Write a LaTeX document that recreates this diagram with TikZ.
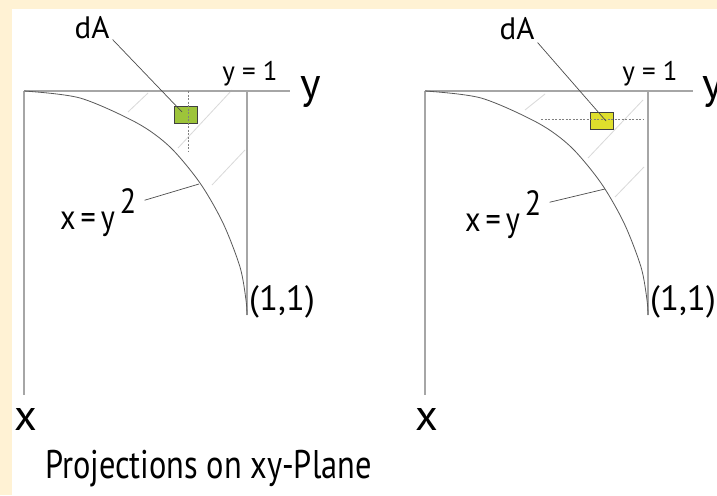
\documentclass[tikz,border=0pt]{standalone}
\usepackage{fontspec}
\setmainfont{PT Sans}
\usepackage{tikz}
\usetikzlibrary{positioning,calc}

\definecolor{cream}{HTML}{FFF2D4}
\definecolor{dAgreen}{HTML}{9DC43A}
\definecolor{dAyellow}{HTML}{DEDE2C}

\tikzset{
  axis/.style={draw=black!35, line width=1.3pt},
  curve/.style={draw=black!65, line width=0.8pt},
  leader/.style={draw=black!70, line width=0.7pt},
  hatch/.style={draw=black!15, line width=0.8pt},
  slice/.style={draw=black!50, line width=0.6pt, dash pattern=on 2pt off 1.5pt},
  dabox/.style={draw=black!75, line width=0.8pt, minimum width=23pt, minimum height=17pt, inner sep=0pt},
  lbl/.style={inner sep=0pt, font=\fontsize{28}{32}\selectfont},
  bigaxis/.style={inner sep=0pt, font=\fontsize{44}{50}\selectfont}
}
\newcommand{\narrowtxt}[1]{\scalebox{0.86}[1]{#1}}

\begin{document}
\begin{tikzpicture}[x=1pt, y=-1pt]
  % Page and cream frame
  \fill[cream] (0,0) rectangle (717,495);
  \fill[white] (12,9) rectangle (717,495);
  \useasboundingbox (0,0) rectangle (717,495);

  % ---- Left panel: vertical strip ----
  \draw[hatch] (128,112) -- (148,93);
  \draw[hatch] (178,148) -- (232,90);
  \draw[hatch] (212,185) -- (245,150);

  \draw[axis] (24,91) -- (290,91);
  \draw[axis] (24,91) -- (24,395);
  \draw[axis] (247,91) -- (247,315);
  \draw[curve] plot[smooth] coordinates {(24,91) (80,98) (137,123) (170,147) (200,183) (223,223) (240,267) (246,300) (247,315)};

  \node[dabox, fill=dAgreen] (boxL) at (186,114.5) {};
  \draw[slice] (188,91) -- (188,152);

  \node[lbl, font=\fontsize{31}{34}\selectfont, anchor=base] (dAL) at (92,38) {dA};
  \node[lbl, font=\fontsize{27}{30}\selectfont, anchor=base] (yoneL) at (250,81) {y = 1};
  \node[bigaxis, anchor=base west] (yaxL) at (300,98) {y};
  \node[lbl, font=\fontsize{35}{38}\selectfont, anchor=base west] (parL) at (60,229) {\narrowtxt{x\,=\,y\,\raisebox{0.45em}{2}}};
  \node[lbl, font=\fontsize{35}{38}\selectfont, anchor=west] (ptL) at (249,302) {(1,1)};
  \node[bigaxis, anchor=base] (xaxL) at (26,430) {x};

  \coordinate (dAtipL) at (182,112);
  \coordinate (partipL) at (199,184);
  \draw[leader] ($(dAL.south east)+(3,1)$) -- (dAtipL);
  \draw[leader] ($(parL.east)+(8,-12)$) -- (partipL);

  % ---- Right panel: horizontal strip ----
  \draw[hatch] (525,110) -- (545,94);
  \draw[hatch] (588,158) -- (643,100);
  \draw[hatch] (615,197) -- (644,167);

  \draw[axis] (425,91) -- (693,91);
  \draw[axis] (425,91) -- (425,395);
  \draw[axis] (648,91) -- (648,315);
  \draw[curve] plot[smooth] coordinates {(425,91) (481,98) (538,123) (571,147) (601,183) (624,223) (641,267) (647,300) (648,315)};

  \node[dabox, fill=dAyellow] (boxR) at (602,120.5) {};
  \draw[slice] (541,119) -- (643,119);

  \node[lbl, font=\fontsize{31}{34}\selectfont, anchor=base] (dAR) at (517,40) {dA};
  \node[lbl, font=\fontsize{27}{30}\selectfont, anchor=base] (yoneR) at (650,81) {y = 1};
  \node[bigaxis, anchor=base west] (yaxR) at (702,98) {y};
  \node[lbl, font=\fontsize{35}{38}\selectfont, anchor=base west] (parR) at (465,231) {\narrowtxt{x\,=\,y\,\raisebox{0.45em}{2}}};
  \node[lbl, font=\fontsize{35}{38}\selectfont, anchor=west] (ptR) at (650,302) {(1,1)};
  \node[bigaxis, anchor=base] (xaxR) at (427,430) {x};

  \coordinate (dAtipR) at (606,121);
  \coordinate (partipR) at (605,189);
  \draw[leader] ($(dAR.south east)+(3,2)$) -- (dAtipR);
  \draw[leader] ($(parR.east)+(8,-12)$) -- (partipR);

  % Caption
  \node[anchor=base west, inner sep=0pt, font=\fontsize{40}{46}\selectfont] (title) at (45,478) {\scalebox{0.81}[1]{Projections on xy-Plane}};
\end{tikzpicture}
\end{document}
